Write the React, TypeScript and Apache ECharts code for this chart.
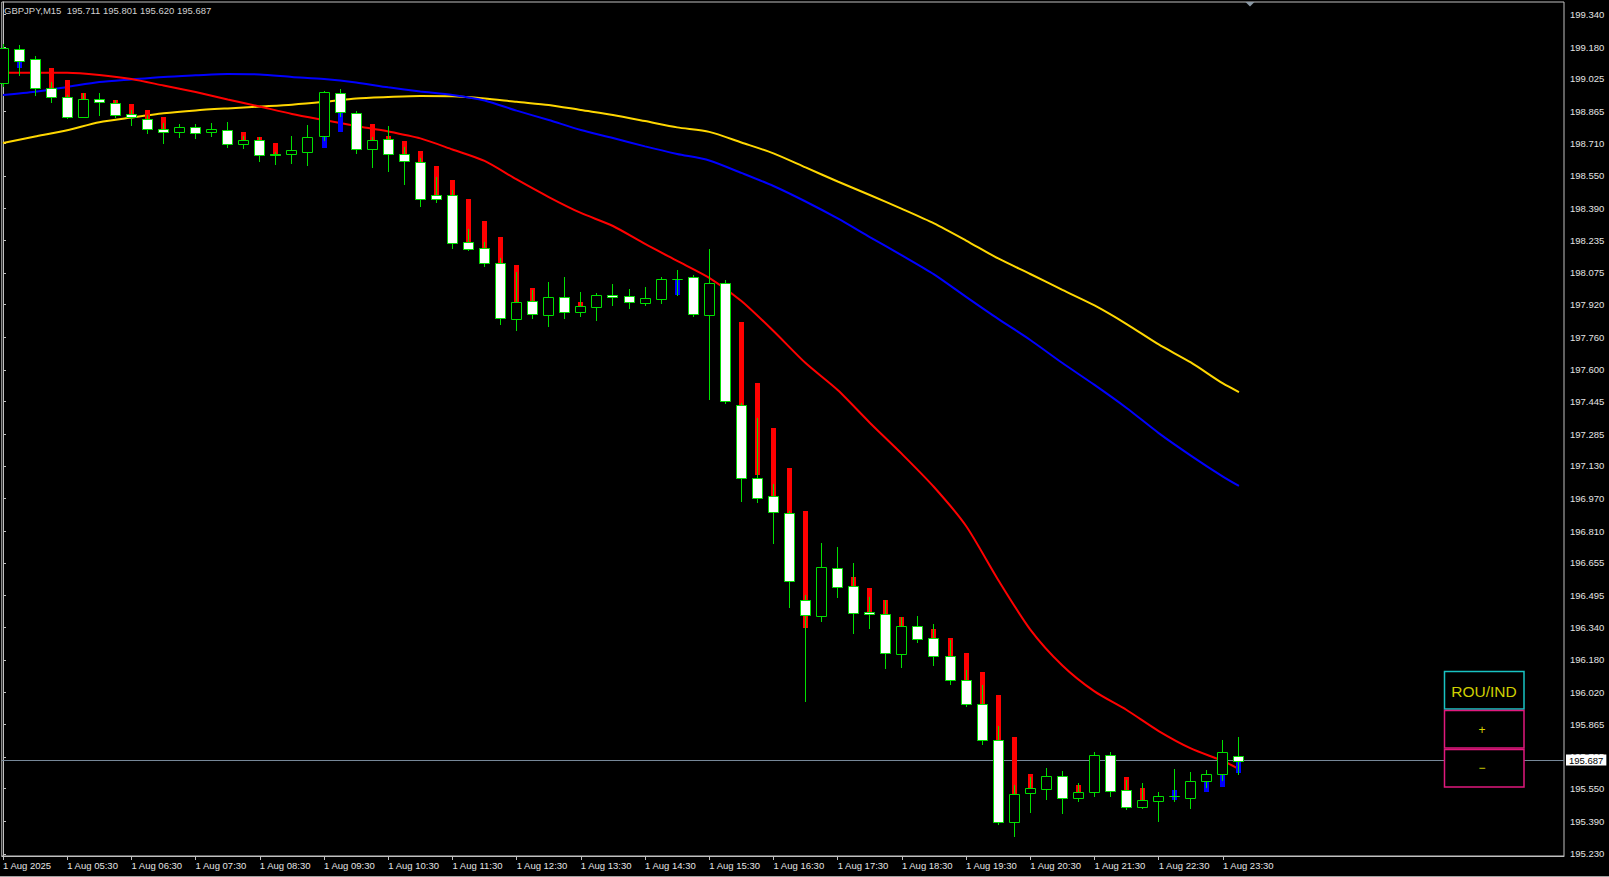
import React, { useEffect, useRef } from 'react';
import * as echarts from 'echarts';

// ---------- data ----------
const symbolHeader = 'GBPJPY,M15  195.711 195.801 195.620 195.687';
const lastPrice = 195.687;

// time-axis labels, one every 4 bars (bar 0 = 04:30)
const xTickBars = [0, 4, 8, 12, 16, 20, 24, 28, 32, 36, 40, 44, 48, 52, 56, 60, 64, 68, 72, 76];
const xLabels = [
  '1 Aug 2025', '1 Aug 05:30', '1 Aug 06:30', '1 Aug 07:30', '1 Aug 08:30', '1 Aug 09:30',
  '1 Aug 10:30', '1 Aug 11:30', '1 Aug 12:30', '1 Aug 13:30', '1 Aug 14:30', '1 Aug 15:30',
  '1 Aug 16:30', '1 Aug 17:30', '1 Aug 18:30', '1 Aug 19:30', '1 Aug 20:30', '1 Aug 21:30',
  '1 Aug 22:30', '1 Aug 23:30',
];

const yTicks = [
  199.34, 199.18, 199.025, 198.865, 198.71, 198.55, 198.39, 198.235, 198.075, 197.92,
  197.76, 197.6, 197.445, 197.285, 197.13, 196.97, 196.81, 196.655, 196.495, 196.34,
  196.18, 196.02, 195.865, 195.705, 195.55, 195.39, 195.23,
];

const opens = [
  199.004, 199.173, 199.122, 198.981, 198.938, 198.840, 198.929, 198.909, 198.854, 198.829,
  198.780, 198.764, 198.790, 198.764, 198.775, 198.707, 198.725, 198.659, 198.659, 198.668,
  198.746, 198.957, 198.857, 198.684, 198.731, 198.659, 198.617, 198.458, 198.458, 198.228,
  198.199, 198.123, 197.848, 197.937, 197.868, 197.956, 197.883, 197.910, 197.966, 197.961,
  197.927, 197.949, 198.047, 198.057, 197.868, 198.028, 197.427, 197.073, 196.981, 196.900,
  196.474, 196.395, 196.632, 196.541, 196.416, 196.407, 196.209, 196.348, 196.288, 196.201,
  196.082, 195.966, 195.788, 195.385, 195.530, 195.548, 195.610, 195.505, 195.535, 195.716,
  195.545, 195.461, 195.491, 195.515, 195.504, 195.586, 195.620, 195.711,
];
const highs = [
  199.196, 199.190, 199.138, 199.012, 198.947, 198.955, 198.955, 198.922, 198.873, 198.849,
  198.810, 198.805, 198.805, 198.808, 198.815, 198.746, 198.741, 198.669, 198.746, 198.800,
  198.966, 198.976, 198.870, 198.743, 198.795, 198.691, 198.638, 198.544, 198.481, 198.290,
  198.228, 198.148, 198.081, 197.992, 198.029, 198.054, 197.980, 197.976, 198.021, 197.995,
  198.008, 198.057, 198.090, 198.065, 198.191, 198.041, 197.438, 197.364, 197.042, 196.910,
  196.498, 196.754, 196.735, 196.653, 196.490, 196.474, 196.390, 196.397, 196.355, 196.278,
  196.131, 196.057, 195.857, 195.568, 195.608, 195.649, 195.636, 195.579, 195.728, 195.729,
  195.592, 195.576, 195.532, 195.646, 195.631, 195.641, 195.788, 195.801,
];
const lows = [
  198.991, 199.045, 198.947, 198.914, 198.833, 198.838, 198.849, 198.838, 198.800, 198.759,
  198.713, 198.740, 198.735, 198.746, 198.694, 198.686, 198.625, 198.607, 198.615, 198.604,
  198.726, 198.844, 198.661, 198.593, 198.575, 198.511, 198.405, 198.424, 198.196, 198.188,
  198.111, 197.825, 197.796, 197.855, 197.816, 197.855, 197.865, 197.845, 197.918, 197.902,
  197.918, 197.927, 197.967, 197.866, 197.457, 197.440, 196.960, 196.955, 196.754, 196.438,
  195.979, 196.372, 196.490, 196.311, 196.335, 196.139, 196.147, 196.267, 196.155, 196.062,
  195.956, 195.768, 195.375, 195.318, 195.434, 195.498, 195.429, 195.491, 195.515, 195.515,
  195.449, 195.454, 195.393, 195.491, 195.454, 195.560, 195.590, 195.620,
];
const closes = [
  199.175, 199.115, 198.980, 198.938, 198.840, 198.926, 198.914, 198.850, 198.840, 198.779,
  198.766, 198.790, 198.759, 198.780, 198.707, 198.725, 198.654, 198.654, 198.676, 198.741,
  198.961, 198.862, 198.684, 198.728, 198.659, 198.622, 198.439, 198.436, 198.223, 198.194,
  198.123, 197.853, 197.935, 197.873, 197.956, 197.883, 197.912, 197.966, 197.956, 197.932,
  197.951, 198.047, 198.044, 197.874, 198.028, 197.447, 197.073, 196.972, 196.903, 196.565,
  196.400, 196.637, 196.536, 196.409, 196.405, 196.216, 196.345, 196.281, 196.201, 196.082,
  195.964, 195.788, 195.385, 195.525, 195.553, 195.610, 195.505, 195.535, 195.716, 195.540,
  195.461, 195.494, 195.515, 195.512, 195.589, 195.620, 195.728, 195.687,
];
// Heiken Ashi body (red when haOpen > haClose, blue otherwise); null = hidden
const haOpens = [
  null, 199.079, null, 199.077, 199.020, 198.955, null, 198.922, 198.903, 198.873,
  198.838, null, null, null, null, 198.767, 198.743, 198.713, null, null,
  198.686, 198.767, null, 198.805, 198.746, 198.720, 198.672, 198.599, 198.532, 198.436,
  198.330, 198.250, 198.114, 198.000, null, null, 197.933, null, null, null,
  null, null, 197.967, null, null, null, 197.837, 197.535, 197.315, 197.119,
  196.911, null, null, 196.586, 196.531, 196.474, 196.390, null, 196.332, 196.288,
  196.216, 196.121, 196.010, 195.804, 195.620, null, null, 195.568, null, null,
  195.607, 195.554, null, 195.494, null, 195.532, 195.559, 195.625,
];
const haCloses = [
  null, 199.115, null, 198.981, 198.938, 198.926, null, 198.909, 198.854, 198.829,
  198.780, null, null, null, null, 198.725, 198.725, 198.659, null, null,
  198.746, 198.862, null, 198.728, 198.731, 198.659, 198.617, 198.458, 198.458, 198.228,
  198.199, 198.123, 197.935, 197.937, null, null, 197.912, null, null, null,
  null, null, 198.044, null, null, null, 197.427, 197.086, 196.981, 196.900,
  196.335, null, null, 196.541, 196.416, 196.407, 196.345, null, 196.288, 196.201,
  196.082, 195.966, 195.788, 195.525, 195.553, null, null, 195.535, null, null,
  195.545, 195.494, null, 195.543, null, 195.586, 195.620, 195.687,
];

// moving averages, read every 2 bars
const maBars = [
  0, 2, 4, 6, 8, 10, 12, 14, 16, 18, 20, 22, 24, 26, 28, 30, 32, 34, 36, 38,
  40, 42, 44, 46, 48, 50, 52, 54, 56, 58, 60, 62, 64, 66, 68, 70, 72, 74, 76, 77,
];
const maRed = [
  199.056, 199.056, 199.056, 199.045, 199.025, 198.993, 198.961, 198.925, 198.890, 198.854,
  198.824, 198.795, 198.768, 198.734, 198.680, 198.624, 198.533, 198.447, 198.369, 198.305,
  198.217, 198.134, 198.051, 197.938, 197.791, 197.634, 197.502, 197.342, 197.189, 197.027,
  196.836, 196.572, 196.329, 196.153, 196.026, 195.935, 195.832, 195.747, 195.685, 195.646,
];
const maBlue = [
  198.947, 198.963, 198.986, 199.010, 199.023, 199.035, 199.043, 199.050, 199.047, 199.035,
  199.025, 199.008, 198.984, 198.964, 198.947, 198.920, 198.870, 198.824, 198.775, 198.736,
  198.695, 198.658, 198.626, 198.565, 198.501, 198.425, 198.342, 198.251, 198.161, 198.068,
  197.958, 197.850, 197.747, 197.634, 197.527, 197.414, 197.291, 197.181, 197.078, 197.032,
];
const maYellow = [
  198.712, 198.743, 198.774, 198.813, 198.836, 198.857, 198.871, 198.881, 198.890, 198.899,
  198.913, 198.930, 198.937, 198.942, 198.941, 198.930, 198.913, 198.898, 198.873, 198.849,
  198.819, 198.788, 198.766, 198.714, 198.661, 198.592, 198.523, 198.457, 198.389, 198.318,
  198.234, 198.146, 198.070, 197.992, 197.916, 197.825, 197.725, 197.637, 197.534, 197.492,
];

// ---------- styles ----------
const FONT = '"Liberation Sans", Arial, sans-serif';
const GREEN = '#00e000';
const FRAME = '#c0c0c0';
const TEXT = '#e4e4e4';

export default function App() {
  const ref = useRef<HTMLDivElement>(null);

  useEffect(() => {
    if (!ref.current) return;
    const chart = echarts.init(ref.current, null, { renderer: 'svg' });

    const candleData = opens.map((o, i) => [
      i, o, highs[i], lows[i], closes[i],
      haOpens[i] == null ? NaN : haOpens[i],
      haCloses[i] == null ? NaN : haCloses[i],
    ]);

    const renderCandle = (params: any, api: any) => {
      const i = api.value(0);
      const o = api.value(1);
      const h = api.value(2);
      const l = api.value(3);
      const c = api.value(4);
      const hao = api.value(5);
      const hac = api.value(6);
      const pO = api.coord([i, o]);
      const pC = api.coord([i, c]);
      const pH = api.coord([i, h]);
      const pL = api.coord([i, l]);
      const cx = Math.floor(pO[0]) + 0.5;
      const children: any[] = [];
      if (!isNaN(hao) && !isNaN(hac)) {
        const a = api.coord([i, hao])[1];
        const b = api.coord([i, hac])[1];
        const y0 = Math.round(Math.min(a, b));
        const y1 = Math.round(Math.max(a, b));
        children.push({
          type: 'rect',
          shape: { x: cx - 2.5, y: y0, width: 5, height: Math.max(1, y1 - y0) },
          style: { fill: hao > hac ? '#ff0000' : '#0000ff' },
        });
      }
      children.push({
        type: 'line',
        shape: { x1: cx, y1: Math.round(pH[1]), x2: cx, y2: Math.round(pL[1]) + 1 },
        style: { stroke: GREEN, lineWidth: 1 },
      });
      const top = Math.round(Math.min(pO[1], pC[1])) + 0.5;
      const bot = Math.round(Math.max(pO[1], pC[1])) + 0.5;
      children.push({
        type: 'rect',
        shape: { x: cx - 5, y: top, width: 10, height: Math.max(0, bot - top) },
        style: { fill: c > o ? '#000000' : '#ffffff', stroke: GREEN, lineWidth: 1 },
      });
      return { type: 'group', children };
    };

    const maSeries = (name: string, vals: number[], color: string, extra: any = {}) => ({
      name,
      type: 'line',
      data: maBars.map((b, k) => [b, vals[k]]),
      showSymbol: false,
      symbol: 'none',
      smooth: 0.25,
      lineStyle: { color, width: 2 },
      z: 2,
      silent: true,
      ...extra,
    });

    chart.setOption({
      animation: false,
      backgroundColor: '#000000',
      textStyle: { fontFamily: FONT },
      grid: {
        left: 0, top: 2, right: 45, bottom: 21,
        show: true, borderColor: FRAME, borderWidth: 1, backgroundColor: '#000000',
      },
      xAxis: {
        type: 'value',
        min: -0.075,
        max: 97.25,
        axisLine: { show: true, lineStyle: { color: FRAME, width: 1 } },
        axisTick: {
          show: true, inside: false, length: 4, customValues: xTickBars,
          lineStyle: { color: FRAME },
        },
        axisLabel: {
          show: true,
          customValues: xTickBars,
          formatter: (v: number) => {
            const k = xTickBars.indexOf(Math.round(v));
            return k >= 0 ? xLabels[k] : '';
          },
          align: 'left',
          margin: 4,
          color: TEXT,
          fontSize: 9.5,
          fontFamily: FONT,
          hideOverlap: false,
        },
        splitLine: { show: false },
      },
      yAxis: {
        type: 'value',
        position: 'right',
        min: 195.220,
        max: 199.402,
        axisLine: { show: true, lineStyle: { color: FRAME, width: 1 } },
        axisTick: {
          show: true, inside: false, length: 3, customValues: yTicks,
          lineStyle: { color: FRAME },
        },
        axisLabel: {
          show: true,
          customValues: yTicks,
          formatter: (v: number) => v.toFixed(3),
          margin: 6,
          color: TEXT,
          fontSize: 9.5,
          fontFamily: FONT,
          hideOverlap: false,
        },
        splitLine: { show: false },
      },
      series: [
        maSeries('MA slow', maYellow, '#ffd700'),
        maSeries('MA mid', maBlue, '#0000ff'),
        maSeries('MA fast', maRed, '#ff0000', {
          markLine: {
            silent: true,
            symbol: ['none', 'none'],
            lineStyle: { color: '#778899', width: 1, type: 'solid' },
            label: {
              show: true,
              position: 'end',
              formatter: () => lastPrice.toFixed(3),
              color: '#000000',
              backgroundColor: '#ffffff',
              padding: [1, 3, 0, 3],
              fontSize: 9.5,
              fontFamily: FONT,
              distance: 2,
            },
            emphasis: { disabled: true },
            data: [{ yAxis: lastPrice }],
          },
        }),
        {
          name: 'GBPJPY',
          type: 'custom',
          renderItem: renderCandle,
          data: candleData,
          encode: { x: 0, y: [1, 2, 3, 4] },
          z: 5,
          silent: true,
        },
      ],
      graphic: [
        {
          type: 'text',
          x: 4,
          y: 10,
          z: 100,
          style: {
            text: symbolHeader,
            fill: '#d0d0d0',
            font: `9.5px ${FONT}`,
            textAlign: 'left',
            textVerticalAlign: 'middle',
          },
        },
        {
          type: 'polygon',
          z: 100,
          shape: { points: [[1245.5, 2], [1254.5, 2], [1250, 6.5]] },
          style: { fill: '#8a98a4' },
        },
        {
          type: 'rect',
          z: 100,
          shape: { x: 1444.5, y: 671.5, width: 79.5, height: 37.5 },
          style: { fill: '#000000', stroke: '#19c3c3', lineWidth: 1.5 },
        },
        {
          type: 'text',
          z: 101,
          x: 1484,
          y: 691,
          style: {
            text: 'ROU/IND', fill: '#cfcf00', font: `15.5px ${FONT}`,
            textAlign: 'center', textVerticalAlign: 'middle',
          },
        },
        {
          type: 'rect',
          z: 100,
          shape: { x: 1444.5, y: 710.5, width: 79.5, height: 37.5 },
          style: { fill: '#000000', stroke: '#e0197d', lineWidth: 1.5 },
        },
        {
          type: 'text',
          z: 101,
          x: 1482,
          y: 730,
          style: {
            text: '+', fill: '#d8d800', font: `12px ${FONT}`,
            textAlign: 'center', textVerticalAlign: 'middle',
          },
        },
        {
          type: 'rect',
          z: 100,
          shape: { x: 1444.5, y: 749.5, width: 79.5, height: 37.5 },
          style: { fill: '#000000', stroke: '#e0197d', lineWidth: 1.5 },
        },
        {
          type: 'text',
          z: 101,
          x: 1482,
          y: 768,
          style: {
            text: '\u2212', fill: '#d8d800', font: `12px ${FONT}`,
            textAlign: 'center', textVerticalAlign: 'middle',
          },
        },
        {
          type: 'line',
          z: 100,
          shape: { x1: 0, y1: 876.5, x2: 1609, y2: 876.5 },
          style: { stroke: '#a0a0a0', lineWidth: 1 },
        },
      ],
    });

    return () => chart.dispose();
  }, []);

  return (
    <div
      ref={ref}
      style={{ position: 'fixed', left: 0, top: 0, width: 1609, height: 877, background: '#000' }}
    />
  );
}
